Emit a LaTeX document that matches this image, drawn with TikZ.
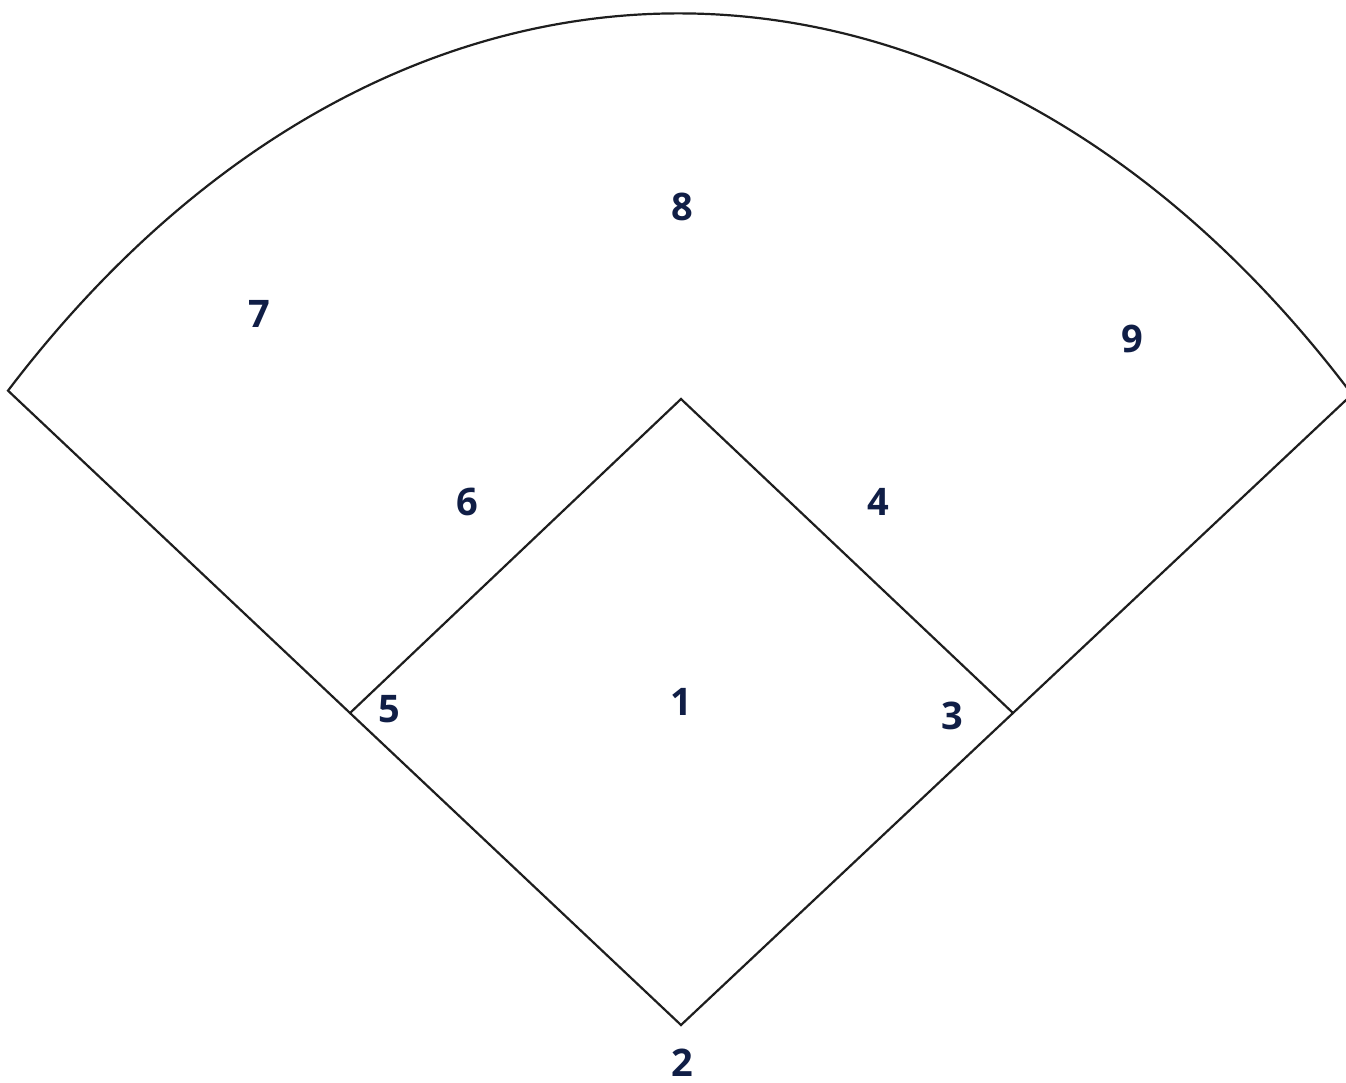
\documentclass[tikz,border=0pt]{standalone}
\usepackage{fontspec}
\setmainfont{Open Sans}
\usetikzlibrary{calc}
\definecolor{navy}{RGB}{16,30,70}
\definecolor{lineink}{RGB}{30,30,30}
\tikzset{
  fieldline/.style={draw=lineink, line width=2.2pt, line join=miter},
  poslabel/.style={text=navy, font=\fontsize{38}{40}\selectfont\bfseries, inner sep=0pt, anchor=base}
}
\begin{document}
\begin{tikzpicture}[x=1pt,y=-1pt]
\useasboundingbox (0,0) rectangle (1346,1082);
\clip (0,0) rectangle (1346,1082);
\coordinate (home) at (681,1025);
\coordinate (second) at (681,399);
\coordinate (third) at (350,713);
\coordinate (first) at (1013,713);
\coordinate (lf) at ($(home)!2.0332!(third)$);
\coordinate (rf) at ($(home)!2.0211!(first)$);
% outfield outline
\draw[fieldline] (home) -- (third) -- (lf) .. controls (391,-113) and (969,-113) .. (rf) -- (first) -- cycle;
% infield diamond
\draw[fieldline] (third) -- (second) -- (first);
% positions
\node[poslabel] (p8) at (682,220) {8};
\node[poslabel] (p7) at (259,327) {7};
\node[poslabel] (p9) at (1132,352) {9};
\node[poslabel] (p6) at (467,515) {6};
\node[poslabel] (p4) at (878,515) {4};
\node[poslabel] (p1) at (681,715) {1};
\node[poslabel] (p5) at (389,722) {5};
\node[poslabel] (p3) at (952,729) {3};
\node[poslabel] (p2) at (682,1076) {2};
\end{tikzpicture}
\end{document}
